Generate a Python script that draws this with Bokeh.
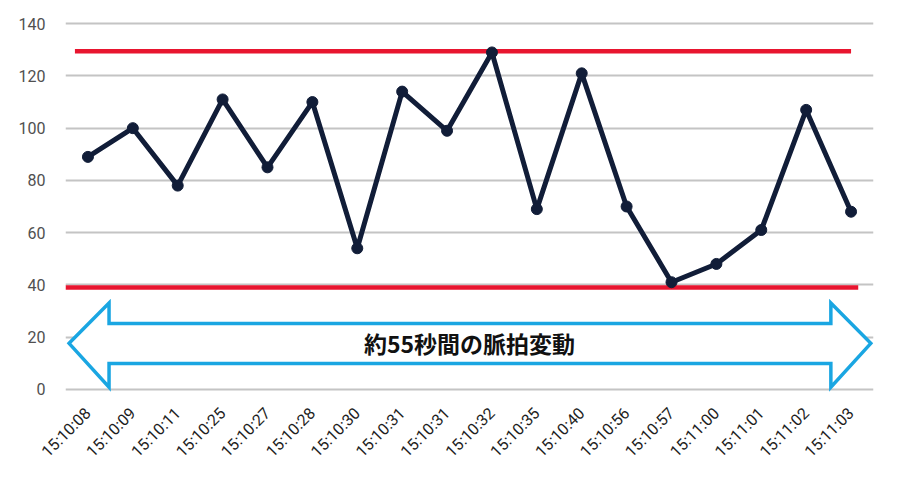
from bokeh.plotting import figure
from bokeh.models import Range1d, FixedTicker
from bokeh.core.properties import value
from bokeh.embed import file_html
from bokeh.resources import INLINE
import math

# ---- data ----
times = ["15:10:08", "15:10:09", "15:10:11", "15:10:25", "15:10:27", "15:10:28",
         "15:10:30", "15:10:31", "15:10:31", "15:10:32", "15:10:35", "15:10:40",
         "15:10:56", "15:10:57", "15:11:00", "15:11:01", "15:11:02", "15:11:03"]
pulse = [89, 100, 78, 111, 85, 110, 54, 114, 99, 129, 69, 121, 70, 41, 48, 61, 107, 68]
upper_limit = 129.5
lower_limit = 39
y_ticks = [0, 20, 40, 60, 80, 100, 120, 140]
arrow_label = "約55秒間の脈拍変動"

xs = list(range(len(times)))

p = figure(frame_width=808, frame_height=376, output_backend="svg", toolbar_location=None,
           x_range=Range1d(-0.5, len(times) - 0.5), y_range=Range1d(-2, 142),
           min_border_left=65, min_border_right=11, min_border_top=18, min_border_bottom=10)
p.outline_line_color = None
p.background_fill_color = "white"

# axes
p.xaxis.ticker = FixedTicker(ticks=xs)
p.xaxis.major_label_overrides = {i: t for i, t in enumerate(times)}
p.xaxis.major_label_orientation = math.pi / 4
p.xaxis.axis_line_color = None
p.xaxis.major_tick_line_color = None
p.xaxis.minor_tick_line_color = None
p.xaxis.major_label_text_font = "Roboto"
p.xaxis.major_label_text_font_size = "16px"
p.xaxis.major_label_text_color = "#1e1e1e"
p.xaxis.major_label_standoff = 10

p.yaxis.ticker = FixedTicker(ticks=y_ticks)
p.yaxis.axis_line_color = None
p.yaxis.major_tick_line_color = None
p.yaxis.minor_tick_line_color = None
p.yaxis.major_label_text_font = "Roboto"
p.yaxis.major_label_text_font_size = "16px"
p.yaxis.major_label_text_color = "#505050"
p.yaxis.major_label_standoff = 14

p.xgrid.grid_line_color = None
p.ygrid.ticker = FixedTicker(ticks=y_ticks)
p.ygrid.grid_line_color = "#c4c4c4"
p.ygrid.grid_line_width = 2

# double arrow annotation (white fill, blue outline)
n = len(times)
l_tip, l_base = -0.42, 0.47
r_base, r_tip = (n - 1) - 0.45, (n - 1) + 0.44
mid, shaft_top, shaft_bot, head_top, head_bot = 17.6, 25.2, 9.9, 33.0, 0.8
ax = [l_tip, l_base, l_base, r_base, r_base, r_tip, r_base, r_base, l_base, l_base]
ay = [mid, head_top, shaft_top, shaft_top, head_top, mid, head_bot, shaft_bot, shaft_bot, head_bot]
p.patch(ax, ay, fill_color="white", line_color="#1aa6e2", line_width=3.5, line_join="miter")
p.text(x=[(n - 1) / 2], y=[mid], text=[arrow_label], text_font=value("Noto Sans CJK JP"),
       text_font_style="bold", text_font_size="23px", text_color="#111111",
       text_align="center", text_baseline="middle")

# limit lines
p.segment(x0=[-0.29], y0=[upper_limit], x1=[n - 1], y1=[upper_limit],
          line_color="#e8152f", line_width=4.5)
p.segment(x0=[-0.5], y0=[lower_limit], x1=[n - 1 + 0.16], y1=[lower_limit],
          line_color="#e8152f", line_width=4.5)

# pulse series
p.line(xs, pulse, line_color="#111d38", line_width=5, line_join="round")
p.scatter(xs, pulse, size=11, fill_color="#111d38", line_color="#111d38")

open("out.html", "w").write(file_html(p, INLINE))
